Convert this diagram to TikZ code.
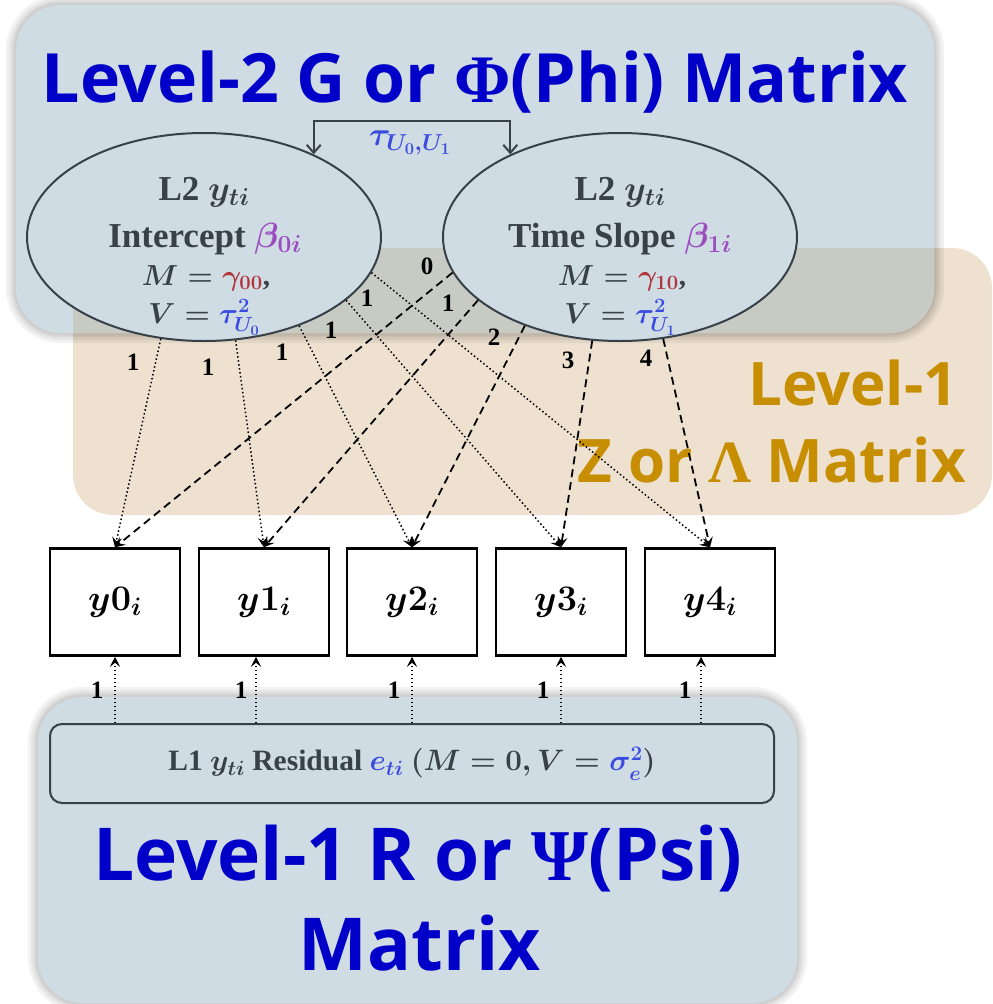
\RequirePackage{fix-cm}
\documentclass[tikz,border=0pt]{standalone}
\usepackage{fontspec}
\setmainfont{Liberation Serif}
\newfontfamily\titlefont{Open Sans}
\newfontfamily\greekfont{Liberation Serif}
\usetikzlibrary{arrows.meta,shapes.geometric}
\definecolor{bluebg}{RGB}{208,220,227}
\definecolor{tanbg}{RGB}{238,225,208}
\definecolor{overlapc}{RGB}{200,202,196}
\definecolor{titleblue}{RGB}{0,0,200}
\definecolor{goldc}{RGB}{198,142,0}
\definecolor{slate}{RGB}{55,65,71}
\definecolor{betac}{RGB}{155,77,192}
\definecolor{gammac}{RGB}{178,52,60}
\definecolor{tauc}{RGB}{58,75,224}
\tikzset{
  ell/.style={ellipse, draw=slate, line width=2pt, fill=bluebg, minimum width=354pt, minimum height=208pt, inner sep=0pt},
  obs/.style={rectangle, draw=black, line width=2.5pt, fill=white, minimum width=130pt, minimum height=107pt, inner sep=0pt, font=\bfseries\boldmath\fontsize{36}{36}\selectfont},
  elltext/.style={anchor=base, text=slate, inner sep=0pt, font=\bfseries\boldmath\fontsize{35}{35}\selectfont},
  ellsmall/.style={anchor=base, text=slate, inner sep=0pt, font=\bfseries\boldmath\fontsize{29}{29}\selectfont},
  wt/.style={font=\bfseries\fontsize{25}{25}\selectfont, text=black, inner sep=0pt},
  tip/.style={-{Stealth[length=10pt,width=10pt,inset=4pt]}},
  dotarr/.style={tip, line width=1.5pt, dash pattern=on 1.5pt off 2.5pt},
  dasharr/.style={tip, line width=1.8pt, dash pattern=on 8pt off 5pt},
  covarr/.style={{Straight Barb[length=8pt,width=14pt]}-{Straight Barb[length=8pt,width=14pt]}, draw=slate, line width=2pt},
  bigtitle/.style={font=\titlefont\bfseries\fontsize{68}{68}\selectfont, text=titleblue, anchor=base, inner sep=0pt},
  lowtitle/.style={font=\titlefont\bfseries\fontsize{73}{73}\selectfont, text=titleblue, anchor=base, inner sep=0pt},
  goldtitle/.style={font=\titlefont\bfseries\fontsize{60}{60}\selectfont, text=goldc, anchor=base east, inner sep=0pt},
  glow/.style={draw=black, opacity=0.05},
}
\begin{document}
\begin{tikzpicture}[x=1pt,y=-1pt]
\useasboundingbox (0,0) rectangle (993,1004);
% background panels
\fill[tanbg, rounded corners=40pt] (73,248) rectangle (992,515);
\foreach \w in {20,14,9,5} {\draw[glow, line width=\w pt, rounded corners=45pt] (16,5) rectangle (934,333);}
\fill[bluebg, rounded corners=45pt] (16,5) rectangle (934,333);
\begin{scope}
  \clip[rounded corners=40pt] (73,248) rectangle (992,515);
  \fill[overlapc, rounded corners=45pt] (16,5) rectangle (934,333);
\end{scope}
\foreach \w in {20,14,9,5} {\draw[glow, line width=\w pt, rounded corners=45pt] (38,697) rectangle (797,1003);}
\fill[bluebg, rounded corners=45pt] (38,697) rectangle (797,1003);

% titles
\node[bigtitle] (t2) at (475,102) {Level-2 G or {\greekfont Φ}(Phi) Matrix};
\node[goldtitle] (t1a) at (958,405) {Level-1};
\node[goldtitle] (t1b) at (966,482) {Z or {\greekfont Λ} Matrix};
\node[lowtitle] (t3a) at (418,880) {Level-1 R or {\greekfont Ψ}(Psi)};
\node[lowtitle] (t3b) at (420,970) {Matrix};

% latent ellipses
\node[ell] (int) at (204,237) {};
\node[ell] (tsl) at (620,237) {};
\node[elltext] (i1) at (204,200) {L2 $y_{ti}$};
\node[elltext] (i2) at (205,247) {Intercept $\textcolor{betac}{\beta_{0i}}$};
\node[ellsmall] (i3) at (206,285) {$M=\textcolor{gammac}{\gamma_{00}}$,};
\node[ellsmall] (i4) at (204,323) {$V=\textcolor{tauc}{\tau^2_{U_0}}$};
\node[elltext] (s1) at (620,200) {L2 $y_{ti}$};
\node[elltext] (s2) at (620,247) {Time Slope $\textcolor{betac}{\beta_{1i}}$};
\node[ellsmall] (s3) at (622,285) {$M=\textcolor{gammac}{\gamma_{10}}$,};
\node[ellsmall] (s4) at (620,323) {$V=\textcolor{tauc}{\tau^2_{U_1}}$};

% covariance
\coordinate (cv) at (412,121);
\draw[covarr] (int.37) |- (cv) -| (tsl.143);
\node[text=tauc, inner sep=0pt, font=\boldmath\fontsize{33}{33}\selectfont] (tau) at (410,143) {$\tau_{U_0,U_1}$};

% observed boxes
\foreach \n/\x in {0/115,1/264,2/412,3/561,4/710} {
  \node[obs] (y\n) at (\x,602) {$y\n_i$};
}

% residual box
\node[rectangle, rounded corners=12pt, draw=slate, line width=2pt, fill=bluebg, minimum width=724pt, minimum height=79pt, inner sep=0pt, text=slate, font=\bfseries\boldmath\fontsize{29.5}{29.5}\selectfont] (res) at (412,763.5)
  {L1 $y_{ti}$ Residual $\textcolor{tauc}{e_{ti}}$ $(M=0,V=\textcolor{tauc}{\sigma^2_e})$};

% loadings from intercept (dotted)
\draw[dotarr] (int.247) -- (y0.north);
\draw[dotarr] (int.287) -- (y1.north);
\draw[dotarr] (int.317) -- (y2.north);
\draw[dotarr] (int.336) -- (y3.north);
\draw[dotarr] (int.348) -- (y4.north);
% loadings from slope (dashed)
\draw[dasharr] (tsl.192) -- (y0.north);
\draw[dasharr] (tsl.204) -- (y1.north);
\draw[dasharr] (tsl.223) -- (y2.north);
\draw[dasharr] (tsl.255) -- (y3.north);
\draw[dasharr] (tsl.293) -- (y4.north);

\node[wt] (li0) at (133,362) {1};
\node[wt] (li1) at (208,367) {1};
\node[wt] (li2) at (282,352) {1};
\node[wt] (li3) at (331,330) {1};
\node[wt] (li4) at (367,298) {1};
\node[wt] (ls0) at (427,266) {0};
\node[wt] (ls1) at (448,303) {1};
\node[wt] (ls2) at (494,337) {2};
\node[wt] (ls3) at (568,360) {3};
\node[wt] (ls4) at (646,358) {4};

% residual paths
\coordinate (r1) at ([xshift=-8pt]y1.south);
\coordinate (r4) at ([xshift=-9pt]y4.south);
\draw[dotarr] (res.north -| y0.south) -- (y0.south);
\draw[dotarr] (res.north -| r1) -- (r1);
\draw[dotarr] (res.north -| y2.south) -- (y2.south);
\draw[dotarr] (res.north -| y3.south) -- (y3.south);
\draw[dotarr] (res.north -| r4) -- (r4);
\node[wt] (le0) at (97,690) {1};
\node[wt] (le1) at (241,690) {1};
\node[wt] (le2) at (394,690) {1};
\node[wt] (le3) at (543,690) {1};
\node[wt] (le4) at (685,690) {1};
\end{tikzpicture}
\end{document}
